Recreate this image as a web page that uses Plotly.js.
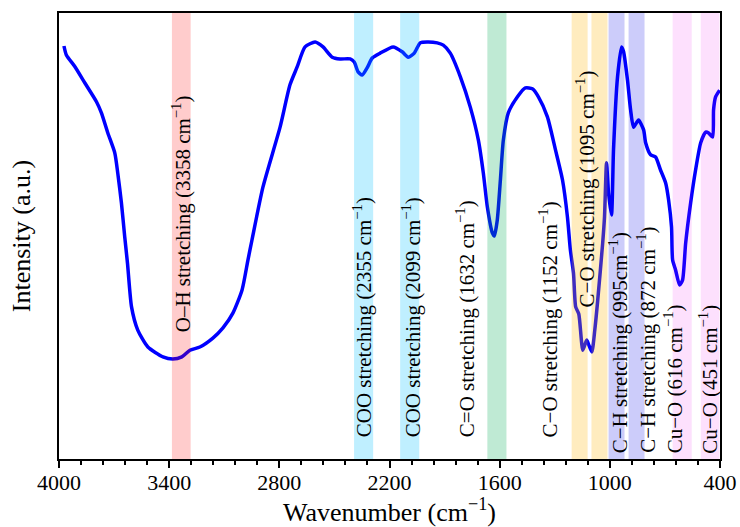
<!DOCTYPE html>
<html>
<head>
<meta charset="utf-8">
<script src="https://cdn.plot.ly/plotly-3.0.1.min.js"></script>
<style>html,body{margin:0;padding:0;background:#fff;}#chart{width:740px;height:527px;}</style>
</head>
<body>
<div id="chart"></div>
<script>
// FTIR spectrum
const wavenumber = [3973,3960,3914,3859,3796,3769,3734,3696,3680,3660,3642,3627,3605,3571,3516,3434,3380,3331,3287,3233,3162,3107,3053,3003,2971,2949,2889,2796,2742,2703,2660,2605,2562,2512,2469,2414,2392,2371,2349,2322,2294,2251,2180,2131,2098,2065,2033,1995,1940,1907,1869,1814,1760,1716,1689,1667,1640,1629,1613,1596,1580,1553,1503,1460,1422,1389,1340,1296,1258,1231,1215,1198,1186,1169,1147,1126,1115,1098,1082,1066,1039,1029,1018,1007,991,980,958,936,925,904,887,871,844,816,805,778,751,724,696,680,664,658,642,620,604,587,560,533,505,478,462,440,435,424,402];
const intensity = [92.6,90.6,88.0,84.3,80.1,77.6,73.1,68.6,64.1,57.4,49.8,43.9,34.1,28.9,25.1,22.9,22.4,22.9,24.4,25.1,27.1,29.4,32.7,37.9,44.6,49.1,61.0,74.4,83.9,87.9,92.4,93.5,92.4,90.1,89.7,89.7,89.0,86.8,86.1,87.7,89.9,91.0,92.4,91.3,90.1,91.0,93.3,93.5,93.3,92.8,91.0,85.7,78.9,71.5,64.1,56.5,50.7,50.0,53.6,62.6,71.5,77.6,81.2,83.2,83.0,81.2,76.7,69.3,62.6,54.3,46.9,41.7,34.1,32.5,24.4,26.7,25.6,24.0,28.9,35.6,48.4,54.3,66.4,59.6,54.7,69.3,85.7,92.4,91.3,85.0,78.3,74.4,76.0,73.8,70.9,68.2,67.7,64.8,61.9,58.1,52.0,44.6,42.4,39.0,40.1,48.4,57.4,64.8,70.9,73.3,73.1,72.2,78.3,81.2,82.7];

// Band assignments
const bandLabels = [
  "O–H stretching (3358 cm<sup>−1</sup>)",
  "COO stretching (2355 cm<sup>−1</sup>)",
  "COO stretching (2099 cm<sup>−1</sup>)",
  "C=O stretching (1632 cm<sup>−1</sup>)",
  "C−O stretching (1152 cm<sup>−1</sup>)",
  "C−O stretching (1095 cm<sup>−1</sup>)",
  "C−H stretching (995cm<sup>−1</sup>)",
  "C−H stretching (872 cm<sup>−1</sup>)",
  "Cu−O (616 cm<sup>−1</sup>)",
  "Cu−O (451 cm<sup>−1</sup>)"
];
const bandLow  = [3283,2289,2038,1563,1121,1013,920,811,554,403];
const bandHigh = [3385,2393,2142,1667,1208,1100,1007,898,658,505];
const labelPos = [3331,2349,2082,1786,1335,1132,953,800,653,460];
const labelBase = [0.285,0.049,0.049,0.049,0.049,0.340,0.013,0.013,0.013,0.013];
const bandColors = ["rgba(255,0,0,0.2)","rgba(0,191,255,0.25)","rgba(0,191,255,0.25)","rgba(0,170,85,0.25)",
  "rgba(255,180,0,0.25)","rgba(255,180,0,0.25)","rgba(0,0,230,0.2)","rgba(0,0,230,0.2)",
  "rgba(235,0,235,0.12)","rgba(235,0,235,0.12)"];

const tickVals = [4000,3400,2800,2200,1600,1000,400];

const serif = "Liberation Serif, Times New Roman, serif";

const shapes = bandLow.map((lo, i) => ({
  type: "rect", xref: "x", yref: "paper", x0: lo, x1: bandHigh[i], y0: 0, y1: 1,
  fillcolor: bandColors[i], line: {width: 0}, layer: "above"
}));

const annotations = bandLabels.map((t, i) => ({
  text: t, x: labelPos[i], xref: "x", y: labelBase[i], yref: "paper",
  xanchor: "center", yanchor: "bottom", textangle: -90, showarrow: false,
  borderpad: 0, borderwidth: 0,
  font: {family: serif, size: 21, color: "#000"}
}));

const trace = {
  x: wavenumber, y: intensity, type: "scatter", mode: "lines",
  line: {color: "rgb(0,0,255)", width: 3.5, shape: "spline", smoothing: 0.6},
  hoverinfo: "skip"
};

const layout = {
  width: 740, height: 527,
  margin: {l: 59, r: 20, t: 13, b: 68},
  paper_bgcolor: "#fff", plot_bgcolor: "#fff",
  showlegend: false,
  font: {family: serif, color: "#000"},
  xaxis: {
    range: [4000, 400], tickvals: tickVals, ticktext: tickVals.map(String),
    ticks: "outside", ticklen: 7, tickwidth: 2, tickcolor: "#000",
    ticklabelstandoff: -4,
    minor: {dtick: 120, tick0: 400, ticks: "outside", ticklen: 4, tickwidth: 2, tickcolor: "#000"},
    showline: true, linewidth: 2, linecolor: "#000", mirror: true,
    showgrid: false, zeroline: false,
    tickfont: {family: serif, size: 22, color: "#000"},
    title: {text: "Wavenumber (cm<sup>−1</sup>)", font: {family: serif, size: 26, color: "#000"}, standoff: 8}
  },
  yaxis: {
    range: [0, 100], showticklabels: false, ticks: "",
    showline: true, linewidth: 2, linecolor: "#000", mirror: true,
    showgrid: false, zeroline: false,
    title: {text: "Intensity (a.u.)", font: {family: serif, size: 26, color: "#000"}, standoff: 19}
  },
  shapes: shapes,
  annotations: annotations
};

Plotly.newPlot("chart", [trace], layout, {displayModeBar: false, staticPlot: true});
</script>
</body>
</html>
